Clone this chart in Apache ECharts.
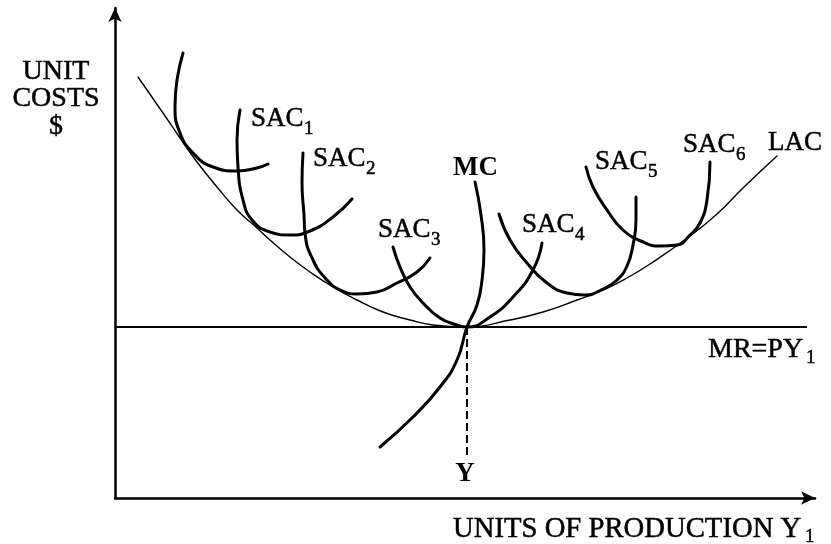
<!DOCTYPE html>
<html>
<head>
<meta charset="utf-8">
<script src="https://cdn.jsdelivr.net/npm/echarts@6/dist/echarts.min.js"></script>
<style>html,body{margin:0;padding:0;background:#fff}#chart{width:831px;height:544px}</style>
</head>
<body>
<div id="chart"></div>
<script>
// Data (x: units of production, y: unit costs)
const lac = [[2.3,42.1],[4.8,38.5],[6.5,36.0],[8.2,33.6],[10.2,31.1],[12.2,28.8],[14.2,27.0],[15.5,25.8],[17.5,24.1],[19.5,22.6],[21.8,21.1],[24.2,19.8],[26.8,18.6],[29.5,17.8],[31.8,17.3],[35.2,17.1],[39.5,17.8],[42.8,18.6],[46.2,19.8],[48.8,20.8],[51.2,22.0],[53.5,23.4],[57.5,26.2],[60.2,28.4],[62.8,31.0],[66.2,34.2]];
const sacA = [[6.8,44.5],[6.2,41.8],[6.0,39.1],[6.5,36.5],[7.8,34.5],[9.8,33.1],[12.2,32.7],[14.2,33.0],[15.3,33.4]];
const sac1 = [[12.5,38.8],[12.2,35.8],[12.3,33.1],[12.8,29.8],[13.7,27.8],[15.5,26.6],[17.5,26.3],[19.5,26.7],[21.8,28.1],[23.7,29.9]];
const sac2 = [[18.8,34.5],[18.7,31.5],[18.9,28.3],[19.0,26.5],[19.8,23.8],[21.2,21.8],[22.5,20.8],[24.2,20.4],[26.2,20.6],[28.2,21.5],[30.2,22.6],[31.5,24.0]];
const sac3 = [[27.8,25.1],[28.5,23.1],[29.5,21.1],[30.8,19.5],[32.5,18.0],[34.2,17.3],[35.2,17.1],[37.5,18.1],[39.8,20.1],[41.8,22.8],[42.7,25.5]];
const sac4 = [[38.4,28.4],[39.5,25.8],[41.2,23.5],[43.2,21.5],[45.2,20.5],[47.0,20.3],[48.8,20.9],[50.2,21.8],[51.2,23.2],[51.8,25.3],[52.1,27.8],[52.1,30.1]];
const sac5 = [[47.1,33.1],[47.8,31.1],[49.2,28.8],[50.8,26.8],[52.8,25.6],[54.5,25.2],[56.2,25.3],[57.5,26.3],[58.5,27.5],[59.2,29.8],[59.5,33.6]];
const mc = [[26.5,5.1],[29.8,8.1],[32.5,11.1],[34.2,13.8],[35.2,17.1],[36.2,19.3],[36.7,21.8],[36.9,24.8],[36.6,28.3],[36.0,31.6]];
const mrPrice = 17.1;
const mrRange = [0, 69.2];
const outputY = 35.2;
const outputYBottom = 4.3;
const xMax = 70, yMax = 49;

const FONT = '"Liberation Serif", "Times New Roman", serif';
const BLACK = '#000';

function curve(data, width) {
  return {type:'line', data:data, smooth:true, showSymbol:false, silent:true,
    lineStyle:{color:BLACK, width:width, cap:'round'}, z:3};
}

function txt(x, y, s, size, opts) {
  opts = opts || {};
  return {type:'text', x:x, y:y, silent:true, z:10,
    style:{text:s, font:(opts.bold?'bold ':'') + size + 'px ' + FONT, fill:BLACK,
      stroke:BLACK, lineWidth:opts.bold?0:0.5,
      textAlign:opts.align||'left', align:opts.align||'left',
      textVerticalAlign:'middle', verticalAlign:'middle'}};
}

const texts = [
  txt(56,72,'UNIT',28,{align:'center'}),
  txt(56,99,'COSTS',28,{align:'center'}),
  txt(56,127,'$',28,{align:'center'}),
  txt(251,119,'SAC',27), txt(304,129,'1',19),
  txt(313,159,'SAC',27), txt(366,169,'2',19),
  txt(378,230,'SAC',27), txt(431,240,'3',19),
  txt(453,168,'MC',27,{bold:true}),
  txt(522,225,'SAC',27), txt(575,235,'4',19),
  txt(595,162,'SAC',27), txt(648,172,'5',19),
  txt(683,145,'SAC',27), txt(736,155,'6',19),
  txt(768,143,'LAC',27),
  txt(708,350,'MR=PY',28), txt(806,358,'1',19),
  txt(465,474,'Y',27,{align:'center',bold:true}),
  txt(453,529,'UNITS OF PRODUCTION Y',28.7), txt(805,537,'1',19)
];

const chart = echarts.init(document.getElementById('chart'), null, {renderer:'canvas'});
chart.setOption({
  animation:false,
  backgroundColor:'#fff',
  grid:{left:115, right:16, top:8, bottom:46},
  xAxis:{type:'value', min:0, max:xMax,
    axisLine:{show:true, onZero:false, symbol:['none','arrow'], symbolSize:[10,14], lineStyle:{color:BLACK, width:2.5}},
    axisTick:{show:false}, axisLabel:{show:false}, splitLine:{show:false}},
  yAxis:{type:'value', min:0, max:yMax,
    axisLine:{show:true, onZero:false, symbol:['none','arrow'], symbolSize:[10,14], lineStyle:{color:BLACK, width:2.5}},
    axisTick:{show:false}, axisLabel:{show:false}, splitLine:{show:false}},
  series:[
    {type:'line', data:[[mrRange[0],mrPrice],[mrRange[1],mrPrice]], showSymbol:false, silent:true, lineStyle:{color:BLACK,width:2}, z:2},
    {type:'line', data:[[outputY,mrPrice],[outputY,outputYBottom]], showSymbol:false, silent:true, lineStyle:{color:BLACK,width:2,type:[8,4]}, z:2},
    curve(lac,1.4),
    curve(sacA,3), curve(sac1,3), curve(sac2,3), curve(sac3,3), curve(sac4,3), curve(sac5,3),
    curve(mc,3)
  ],
  graphic:texts
});
</script>
</body>
</html>
